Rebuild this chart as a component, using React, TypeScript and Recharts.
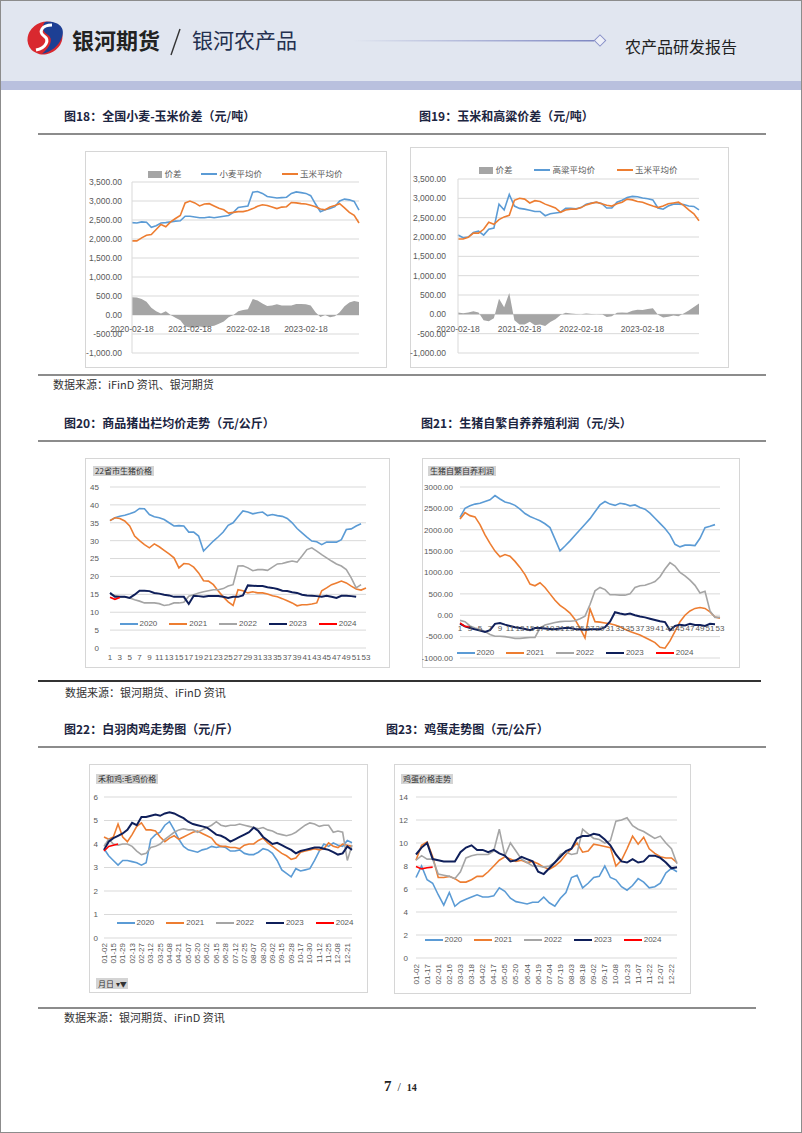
import React from 'react'
import { ComposedChart, LineChart, Line, Area, XAxis, YAxis, CartesianGrid, Legend } from 'recharts'

const FONT = "'Liberation Sans', 'Noto Sans CJK SC', sans-serif"
const CJK = "'Noto Sans CJK SC', 'Noto Sans', sans-serif"

const BLUE = '#5b9bd5'
const ORANGE = '#ed7d31'
const GRAY = '#a5a5a5'
const NAVY = '#0f1f5a'
const RED = '#ff0000'
const GRID = '#d9d9d9'
const TEXT = '#595959'

// ---- 图18 / 图19 monthly samples, 2020-02-18 .. 2024-01-18
const monthDates: string[] = []
for (let i = 0; i < 48; i++) {
  const m = 1 + i
  monthDates.push(`${2020 + Math.floor(m / 12)}-${String((m % 12) + 1).padStart(2, '0')}-18`)
}
const spreadTicks = [-1000, -500, 0, 500, 1000, 1500, 2000, 2500, 3000, 3500]

const wheatCornSpread = [470, 460, 420, 350, 190, 100, 40, 100, 0, -70, -140, -300, -330, -330, -300, -320, -300, -280, -230, -170, -60, 0, 100, 130, 150, 420, 380, 300, 240, 250, 280, 250, 250, 250, 290, 290, 280, 250, 70, -50, 0, -60, -30, 70, 230, 330, 370, 340]
const wheatAvg = [2430, 2420, 2450, 2440, 2310, 2350, 2420, 2430, 2450, 2470, 2480, 2600, 2600, 2580, 2560, 2560, 2580, 2560, 2580, 2600, 2620, 2700, 2830, 2850, 2870, 3230, 3250, 3200, 3120, 3100, 3080, 3090, 3100, 3200, 3240, 3220, 3200, 3140, 2920, 2720, 2770, 2800, 2850, 3000, 3050, 3030, 2990, 2760]
const cornAvg18 = [1950, 1950, 2030, 2100, 2120, 2250, 2380, 2320, 2450, 2540, 2620, 2950, 3000, 2950, 2870, 2920, 2930, 2870, 2810, 2770, 2680, 2700, 2720, 2720, 2750, 2800, 2860, 2900, 2880, 2840, 2800, 2840, 2850, 2960, 2950, 2930, 2920, 2890, 2850, 2790, 2770, 2840, 2880, 2930, 2820, 2700, 2620, 2420]

const cornSorghumSpread = [50, 30, 50, 80, 50, -150, -180, -100, 400, 180, 550, -150, -260, -260, -190, -280, -260, -300, -200, -130, -20, 40, 20, 10, 0, 20, 10, 0, 10, -70, -50, 40, 50, 40, 90, 120, 110, 140, 160, -10, -80, -60, -30, -50, 20, 100, 190, 280]
const sorghumAvg = [2050, 1980, 2000, 2120, 2150, 2050, 2200, 2230, 2850, 2700, 3100, 2800, 2740, 2720, 2690, 2660, 2660, 2550, 2600, 2620, 2640, 2740, 2740, 2730, 2760, 2850, 2880, 2900, 2870, 2750, 2750, 2900, 2950, 3020, 3050, 3040, 3010, 2990, 2960, 2750, 2720, 2800, 2850, 2850, 2840, 2800, 2790, 2700]
const cornAvg19 = [1950, 1950, 1990, 2100, 2100, 2200, 2380, 2330, 2450, 2520, 2560, 2950, 3000, 2980, 2880, 2940, 2920, 2850, 2800, 2750, 2640, 2700, 2720, 2720, 2760, 2830, 2870, 2900, 2860, 2820, 2800, 2860, 2900, 2980, 2960, 2920, 2900, 2850, 2800, 2760, 2800, 2860, 2880, 2900, 2820, 2700, 2600, 2420]

// ---- 图20 / 图21 weekly
const weeks = Array.from({ length: 53 }, (_, i) => String(i + 1))
const hogTicks = [0, 5, 10, 15, 20, 25, 30, 35, 40, 45]
const hog2020 = [35.6, 36.4, 36.8, 37.1, 37.5, 38, 39, 38.9, 37.3, 36.7, 36.4, 35.9, 35, 34.1, 34.2, 34.1, 32.4, 32.4, 31.3, 27.1, 28.5, 29.9, 31.1, 32.4, 34.3, 35, 36.7, 38.3, 38, 37.5, 37.8, 38, 37, 37.3, 37, 36.8, 36.2, 35, 33.4, 32.2, 31, 29.9, 29.7, 28.9, 29.6, 29.6, 29.6, 30.3, 33.1, 33.3, 34.1, 34.7, null]
const hog2021 = [35.6, 36.4, 36.2, 35.5, 34.1, 31.3, 30, 28.9, 28, 29.1, 28.3, 27.3, 26.3, 25.2, 22.4, 23.6, 23.5, 22.6, 21, 18.8, 18.7, 17.7, 15.9, 14.3, 12.9, 11.9, 16.3, 16, 15.4, 15.7, 15.4, 15.4, 15.1, 14.6, 14.3, 13.8, 13.2, 12.6, 11.8, 12.1, 12.1, 12.3, 12.6, 16, 16.8, 17.7, 18.2, 18.7, 18.2, 17.3, 16.5, 16.2, 16.8]
const hog2022 = [15, 14.7, 14.3, 14.3, 14, 13.5, 13.1, 12.6, 12.6, 12.6, 12.4, 11.9, 12.1, 12.6, 12.6, 12.8, 14.5, 14.9, 15.4, 15.7, 16, 16.3, 16.3, 16.6, 17.3, 17.7, 22.9, 23, 22.4, 21.6, 21.9, 21.9, 21.7, 22.6, 23.5, 23.6, 24, 24.3, 24, 25.7, 27.5, 28, 27.1, 26.1, 25.2, 24.3, 23.5, 22.9, 21.9, 19.6, 16.8, 17.7, null]
const hog2023 = [15.4, 14.3, 14.3, 14.3, 14, 14.9, 16, 16, 15.9, 15.4, 15.2, 14.9, 14.7, 14.3, 14.3, 14.3, 12.3, 14.6, 14.5, 14.3, 14.5, 14.5, 14.5, 14.3, 14, 14.3, 14.3, 14.7, 17.5, 17.4, 17.3, 17.3, 17, 16.8, 16.5, 16, 15.9, 15.6, 15.4, 14.9, 14.7, 14.6, 14.5, 14.3, 14.6, 14.3, 14, 14.6, 14.6, 14.5, 14.3, null, null]
const hog2024 = [14.2, 13.6, 14.1]

const profitTicks = [-1000, -500, 0, 500, 1000, 1500, 2000, 2500, 3000]
const profit2020 = [2290, 2500, 2560, 2600, 2620, 2660, 2700, 2800, 2720, 2650, 2620, 2570, 2480, 2380, 2310, 2260, 2210, 2140, 2050, 1780, 1506, 1620, 1740, 1870, 2000, 2130, 2260, 2420, 2580, 2660, 2600, 2570, 2620, 2600, 2560, 2580, 2520, 2480, 2390, 2270, 2150, 2030, 1880, 1660, 1600, 1640, 1640, 1630, 1800, 2050, 2080, 2120, null]
const profit2021 = [2250, 2400, 2330, 2300, 2120, 1880, 1680, 1500, 1370, 1420, 1380, 1260, 1120, 950, 730, 690, 760, 650, 500, 350, 230, 150, 50, -100, -300, -530, 150, -150, -160, -180, -200, -230, -270, -330, -380, -420, -460, -520, -580, -640, -750, -770, -600, -380, -150, 0, 100, 160, 180, 160, 80, -40, -70]
const profit2022 = [-120, -150, -250, -300, -330, -380, -450, -490, -490, -500, -520, -540, -540, -530, -520, -520, -300, -230, -200, -170, -150, -140, -140, -130, -80, -20, 250, 570, 650, 600, 480, 480, 470, 470, 500, 650, 690, 700, 740, 790, 900, 1080, 1230, 1150, 1000, 920, 820, 700, 520, 560, 100, -50, -50]
const profit2023 = [-200, -260, -300, -330, -360, -390, -350, -200, -180, -220, -250, -280, -300, -320, -350, -300, -300, -310, -320, -330, -310, -300, -300, -320, -330, -340, -330, -330, -330, -280, -150, 70, 40, 20, 40, 0, -30, -50, -80, -110, -140, -160, -350, -250, -220, -240, -200, -230, -230, -250, -200, -210, null]
const profit2024 = [-180, -260, -270]

// ---- 图22 broiler, ticks at even rows
const broilerTickDates = ['01-02', '01-15', '01-29', '02-13', '02-27', '03-12', '03-25', '04-08', '04-21', '05-07', '05-20', '06-02', '06-15', '06-28', '07-12', '07-25', '08-07', '08-20', '09-02', '09-15', '09-28', '10-17', '10-30', '11-12', '11-25', '12-08', '12-21']
const broilerMidDates = ['01-08', '01-22', '02-06', '02-20', '03-05', '03-18', '04-01', '04-14', '04-28', '05-13', '05-26', '06-08', '06-21', '07-05', '07-18', '07-31', '08-13', '08-26', '09-08', '09-21', '10-10', '10-23', '11-05', '11-18', '12-01', '12-14', '12-27']
const broilerTicks = [0, 1, 2, 3, 4, 5, 6]
const broiler2020 = [3.8, 3.5, 3.3, 3.1, 3.3, 3.3, 3.25, 3.2, 3.1, 3.2, 4.2, 4.4, 4.5, 4.8, 4.95, 4.6, 4.2, 3.9, 3.75, 3.7, 3.65, 3.75, 3.8, 3.9, 3.85, 3.9, 3.85, 3.7, 3.7, 3.75, 3.6, 3.55, 3.55, 3.65, 3.8, 3.75, 3.6, 3.3, 2.9, 2.75, 2.6, 2.95, 2.85, 2.9, 2.95, 3.3, 3.7, 4.0, 3.9, 4.05, 3.95, 3.9, 4.15, 4.05]
const broiler2021 = [4.3, 4.2, 4.3, 4.85, 4.3, 4.1, 4.4, 4.75, 4.9, 4.6, 4.6, 4.55, 4.3, 4.1, 4.25, 4.35, 4.2, 4.3, 4.4, 4.5, 4.55, 4.45, 4.35, 4.25, 4.0, 3.9, 3.9, 3.85, 3.85, 3.8, 3.95, 4.0, 4.0, 4.15, 4.25, 4.05, 3.9, 3.75, 3.6, 3.5, 3.35, 3.4, 3.65, 3.7, 3.75, 3.8, 3.75, 3.8, 4.05, 3.9, 3.85, 4.0, 3.95, 3.9]
const broiler2022 = [3.9, 4.2, 4.0, 3.95, 4.0, 4.0, 3.9, 3.7, 3.55, 3.6, 3.85, 3.9, 4.0, 4.2, 4.35, 4.5, 4.6, 4.65, 4.6, 4.6, 4.5, 4.6, 4.7, 4.8, 4.95, 4.8, 4.75, 4.8, 4.8, 4.85, 4.8, 4.75, 4.7, 4.65, 4.7, 4.6, 4.55, 4.45, 4.4, 4.35, 4.4, 4.5, 4.65, 4.8, 4.9, 4.85, 4.75, 4.8, 4.8, 4.5, 4.55, 4.5, 3.3, 3.95]
const broiler2023 = [3.75, 4.1, 4.25, 4.35, 4.45, 4.6, 4.9, 4.8, 5.15, 5.15, 5.2, 5.25, 5.2, 5.3, 5.35, 5.3, 5.2, 5.1, 4.95, 4.85, 4.8, 4.75, 4.7, 4.55, 4.4, 4.35, 4.25, 4.1, 4.2, 4.3, 4.4, 4.5, 4.7, 4.55, 4.3, 4.15, 4.0, 4.05, 3.95, 3.85, 3.75, 3.6, 3.7, 3.75, 3.8, 3.85, 3.85, 3.8, 3.75, 3.65, 3.55, 3.6, 3.9, 3.75]
const broiler2024 = [3.7, 3.9, 3.95, 4.0]

// ---- 图23 egg, ticks at even rows
const eggTickDates = ['01-02', '01-17', '02-01', '02-16', '03-03', '03-18', '04-02', '04-17', '05-05', '05-20', '06-04', '06-19', '07-04', '07-19', '08-03', '08-18', '09-02', '09-17', '10-08', '10-23', '11-07', '11-22', '12-07', '12-22']
const eggMidDates = ['01-09', '01-24', '02-08', '02-23', '03-10', '03-25', '04-09', '04-26', '05-12', '05-27', '06-11', '06-26', '07-11', '07-26', '08-10', '08-25', '09-09', '09-27', '10-15', '10-30', '11-14', '11-29', '12-14', '12-28']
const eggTicks = [0, 2, 4, 6, 8, 10, 12, 14]
const egg2020 = [7.0, 8.0, 6.8, 6.5, 5.5, 4.6, 5.7, 4.5, 4.9, 5.1, 5.3, 5.5, 5.3, 5.3, 5.4, 6.1, 5.8, 5.2, 4.9, 4.8, 4.7, 4.85, 4.85, 5.3, 4.8, 4.5, 5.2, 5.7, 7.0, 7.2, 6.1, 6.5, 7.0, 7.1, 8.0, 7.0, 6.8, 6.2, 5.9, 6.3, 6.9, 6.6, 6.1, 6.2, 6.5, 7.4, 7.8, 7.5]
const egg2021 = [8.5, 9.8, 10.1, 8.8, 7.0, 7.0, 7.1, 6.9, 6.6, 6.6, 6.8, 7.1, 7.1, 7.5, 8.0, 8.5, 8.8, 8.6, 8.4, 8.5, 8.3, 8.4, 8.2, 7.9, 7.7, 8.0, 8.4, 9.0, 9.5, 10.0, 9.2, 9.3, 9.9, 9.8, 9.7, 9.6, 8.0, 8.5, 9.5, 10.6, 9.9, 10.5, 9.5, 9.1, 8.8, 8.7, 8.7, 8.3]
const egg2022 = [8.5, 8.9, 8.6, 8.6, 7.3, 7.2, 7.1, 6.9, 7.5, 8.7, 8.9, 9.0, 9.0, 9.0, 9.3, 11.2, 8.9, 10.0, 9.3, 8.6, 8.3, 8.0, 8.0, 7.9, 8.0, 8.3, 9.0, 9.2, 9.0, 9.1, 11.2, 10.8, 10.4, 10.3, 10.0, 10.2, 11.9, 12.0, 12.2, 11.5, 11.2, 11.0, 10.7, 10.4, 10.6, 10.0, 9.5, 8.2]
const egg2023 = [9.0, 9.6, 10.0, 8.6, 8.5, 8.4, 8.4, 8.4, 9.2, 9.6, 9.8, 9.4, 9.4, 9.2, 9.4, 9.1, 8.9, 8.4, 8.5, 8.8, 8.6, 8.4, 7.5, 7.3, 7.8, 8.3, 8.8, 9.3, 9.5, 10.4, 10.6, 10.6, 10.8, 10.7, 10.3, 9.8, 9.0, 8.4, 8.3, 8.6, 8.3, 8.4, 8.9, 8.9, 8.7, 8.3, 7.8, 7.9]
const egg2024 = [7.95, 7.75, 7.85, 7.9]

const years = ['2020', '2021', '2022', '2023', '2024']
const yearColors = [BLUE, ORANGE, GRAY, NAVY, RED]

const interleave = (a: string[], b: string[]) => a.flatMap((v, i) => (b[i] ? [v, b[i]] : [v]))
const broilerDates = interleave(broilerTickDates, broilerMidDates)
const eggDates = interleave(eggTickDates, eggMidDates)

const byYear = (cats: string[], series: (number | null)[][]) =>
  cats.map((c, i) => {
    const row: any = { cat: c }
    series.forEach((s, k) => (row[years[k]] = s[i] ?? null))
    return row
  })

const data18 = monthDates.map((d, i) => ({ date: d, spread: wheatCornSpread[i], wheat: wheatAvg[i], corn: cornAvg18[i] }))
const data19 = monthDates.map((d, i) => ({ date: d, spread: cornSorghumSpread[i], sorghum: sorghumAvg[i], corn: cornAvg19[i] }))
const hogData = byYear(weeks, [hog2020, hog2021, hog2022, hog2023, hog2024])
const profitData = byYear(weeks, [profit2020, profit2021, profit2022, profit2023, profit2024])
const broilerData = byYear(broilerDates, [broiler2020, broiler2021, broiler2022, broiler2023, broiler2024])
const eggData = byYear(eggDates, [egg2020, egg2021, egg2022, egg2023, egg2024])

const fmtComma = (v: number) => v.toLocaleString('en-US', { minimumFractionDigits: 2, maximumFractionDigits: 2 })
const fmtFixed = (v: number) => v.toFixed(2)

type LegendItem = { name: string; color: string; rect?: boolean }
function LegendRow({ items, fontSize = 8, gap = 12, lineLen = 18 }: { items: LegendItem[]; fontSize?: number; gap?: number; lineLen?: number }) {
  return (
    <div style={{ display: 'flex', justifyContent: 'center', alignItems: 'center', gap, fontSize, color: TEXT, fontFamily: FONT, lineHeight: '10px', whiteSpace: 'nowrap' }}>
      {items.map((it) => (
        <span key={it.name} style={{ display: 'flex', alignItems: 'center', gap: 2 }}>
          <span style={{ display: 'inline-block', width: it.rect ? 14 : lineLen, height: it.rect ? 7 : 2, background: it.color }} />
          <span>{it.name}</span>
        </span>
      ))}
    </div>
  )
}

const yearItems: LegendItem[] = years.map((y, i) => ({ name: y, color: yearColors[i] }))

const flatTick = (dy: number, size = 8) => (props: any) => {
  const { x, y, payload } = props
  return (
    <text x={x} y={y + dy} textAnchor="middle" fontSize={size} fill={TEXT} fontFamily={FONT}>
      {payload.value}
    </text>
  )
}
const upTick = (dy: number, size = 8) => (props: any) => {
  const { x, y, payload } = props
  return (
    <text transform={`translate(${x},${y + dy}) rotate(-90)`} textAnchor="end" dominantBaseline="central" fontSize={size} fill={TEXT} fontFamily={FONT}>
      {payload.value}
    </text>
  )
}

const yTick = (size: number) => ({ fontSize: size, fill: TEXT, fontFamily: FONT })

function Box({ left, top, width, height, children }: any) {
  return (
    <div style={{ position: 'absolute', left, top, width, height, outline: '1px solid #d6d6d6', outlineOffset: -1, background: '#fff' }}>
      {children}
    </div>
  )
}

function Tag({ left, top, text }: { left: number; top: number; text: string }) {
  return (
    <div style={{ position: 'absolute', left, top, height: 10, padding: '0 2px', background: '#d4d4d4', fontSize: 8, lineHeight: '10px', color: '#333', fontFamily: CJK, whiteSpace: 'nowrap' }}>
      {text}
    </div>
  )
}

function YearLines() {
  return (
    <>
      {years.map((y, i) => (
        <Line key={y} dataKey={y} stroke={yearColors[i]} strokeWidth={i === 3 ? 2 : 1.6} dot={false} isAnimationActive={false} />
      ))}
    </>
  )
}

const pageText: React.CSSProperties = { position: 'absolute', whiteSpace: 'nowrap', lineHeight: 1 }
const titleStyle: React.CSSProperties = { ...pageText, fontSize: 12, fontWeight: 'bold', color: '#1c2541' }
const sourceStyle: React.CSSProperties = { ...pageText, fontSize: 11, color: '#333' }

export default function App() {
  return (
    <div style={{ position: 'absolute', left: 0, top: 0, width: 802, height: 1133, background: '#fff', fontFamily: CJK, boxSizing: 'border-box', border: '1px solid #8c8c8c', overflow: 'hidden' }}>
      {/* header */}
      <div style={{ position: 'absolute', left: 0, top: 0, width: 802, height: 80, background: '#e1e6f0' }} />
      <div style={{ position: 'absolute', left: 0, top: 80, width: 802, height: 9, background: '#b9c0de' }} />
      <svg style={{ position: 'absolute', left: 23, top: 18 }} width={42} height={38} viewBox="0 0 42 38">
        <ellipse cx={21} cy={19} rx={18} ry={16} transform="rotate(-30 21 19)" fill="#d9282f" />
        <path d="M21 3 C33 1 42 8 38 18 C35 27 27 33 18 35 C26 28 30 20 24 16 C19 13 17 8 21 3 Z" fill="#1d3f94" />
        <path d="M28 6 C18 6 14 13 20 17 C26 21 22 29 12 31" stroke="#fff" strokeWidth={3} fill="none" />
      </svg>
      <div style={{ ...pageText, left: 71, top: 27, fontSize: 22, fontWeight: 'bold', color: '#222' }}>银河期货</div>
      <svg style={{ position: 'absolute', left: 166, top: 26 }} width={16} height={30}>
        <line x1={13} y1={2} x2={4} y2={28} stroke="#333" strokeWidth={1.4} />
      </svg>
      <div style={{ ...pageText, left: 191, top: 28, fontSize: 21, color: '#24304f' }}>银河农产品</div>
      <svg style={{ position: 'absolute', left: 350, top: 33 }} width={260} height={14}>
        <defs>
          <linearGradient id="hl" x1="0" x2="1" y1="0" y2="0">
            <stop offset="0" stopColor="#e1e6f0" />
            <stop offset="1" stopColor="#7e87c2" />
          </linearGradient>
        </defs>
        <rect x={2} y={6} width={241} height={1.5} fill="url(#hl)" />
        <rect x={245} y={2.5} width={8} height={8} transform="rotate(45 249 6.5)" fill="#eef0f8" stroke="#8890c8" strokeWidth={1} />
      </svg>
      <div style={{ ...pageText, left: 624, top: 37, fontSize: 16, color: '#222' }}>农产品研发报告</div>

      {/* row 1 */}
      <div style={{ ...titleStyle, left: 63, top: 109 }}>图18：全国小麦-玉米价差（元/吨）</div>
      <div style={{ ...titleStyle, left: 418, top: 109 }}>图19：玉米和高粱价差（元/吨）</div>
      <div style={{ position: 'absolute', left: 37, top: 132, width: 728, height: 2, background: '#8c8c8c' }} />

      <Box left={84} top={150} width={302} height={217}>
        <ComposedChart width={302} height={217} data={data18} margin={{ top: 31, right: 28, bottom: 0, left: 0 }}>
          <CartesianGrid vertical={false} stroke={GRID} />
          <XAxis dataKey="date" interval={11} axisLine={false} tickLine={false} tickSize={0} height={15} tick={flatTick(-23, 8.5)} />
          <YAxis domain={[-1000, 3500]} ticks={spreadTicks} interval={0} width={47} axisLine={{ stroke: GRID }} tickLine={false} tickSize={0} tickMargin={10} tickFormatter={fmtComma} tick={yTick(8.5)} />
          <Legend verticalAlign="middle" align="center" wrapperStyle={{ left: 47, top: 18, width: 227, height: 10 }}
            content={() => <LegendRow fontSize={8.5} gap={20} lineLen={16} items={[{ name: '价差', color: GRAY, rect: true }, { name: '小麦平均价', color: BLUE }, { name: '玉米平均价', color: ORANGE }]} />} />
          <Area dataKey="spread" type="linear" fill={GRAY} fillOpacity={1} stroke="none" isAnimationActive={false} />
          <Line dataKey="wheat" stroke={BLUE} strokeWidth={1.6} dot={false} isAnimationActive={false} />
          <Line dataKey="corn" stroke={ORANGE} strokeWidth={1.6} dot={false} isAnimationActive={false} />
        </ComposedChart>
      </Box>

      <Box left={409} top={146} width={319} height={221}>
        <ComposedChart width={319} height={221} data={data19} margin={{ top: 32, right: 30, bottom: 0, left: 0 }}>
          <CartesianGrid vertical={false} stroke={GRID} />
          <XAxis dataKey="date" interval={11} axisLine={false} tickLine={false} tickSize={0} height={15} tick={flatTick(-23, 8.5)} />
          <YAxis domain={[-1000, 3500]} ticks={spreadTicks} interval={0} width={48} axisLine={{ stroke: GRID }} tickLine={false} tickSize={0} tickMargin={12} tickFormatter={fmtComma} tick={yTick(8.5)} />
          <Legend verticalAlign="middle" align="center" wrapperStyle={{ left: 48, top: 18, width: 241, height: 10 }}
            content={() => <LegendRow fontSize={8.5} gap={22} lineLen={16} items={[{ name: '价差', color: GRAY, rect: true }, { name: '高粱平均价', color: BLUE }, { name: '玉米平均价', color: ORANGE }]} />} />
          <Area dataKey="spread" type="linear" fill={GRAY} fillOpacity={1} stroke="none" isAnimationActive={false} />
          <Line dataKey="sorghum" stroke={BLUE} strokeWidth={1.6} dot={false} isAnimationActive={false} />
          <Line dataKey="corn" stroke={ORANGE} strokeWidth={1.6} dot={false} isAnimationActive={false} />
        </ComposedChart>
      </Box>

      <div style={{ position: 'absolute', left: 37, top: 373, width: 728, height: 2, background: '#8c8c8c' }} />
      <div style={{ ...sourceStyle, left: 52, top: 378 }}>数据来源：iFinD 资讯、银河期货</div>

      {/* row 2 */}
      <div style={{ ...titleStyle, left: 63, top: 416 }}>图20：商品猪出栏均价走势（元/公斤）</div>
      <div style={{ ...titleStyle, left: 420, top: 416 }}>图21：生猪自繁自养养殖利润（元/头）</div>
      <div style={{ position: 'absolute', left: 37, top: 439, width: 728, height: 2, background: '#8c8c8c' }} />

      <Box left={84} top={457} width={305} height={210}>
        <LineChart width={305} height={210} data={hogData} margin={{ top: 29, right: 24, bottom: 0, left: 0 }}>
          <CartesianGrid vertical={false} stroke={GRID} />
          <XAxis dataKey="cat" interval={1} axisLine={false} tickLine={false} tickSize={0} height={20} tick={flatTick(10, 8)} />
          <YAxis domain={[0, 45]} ticks={hogTicks} interval={0} width={25} axisLine={false} tickLine={false} tickSize={0} tickMargin={11} tick={yTick(8)} />
          <Legend verticalAlign="middle" align="center" wrapperStyle={{ left: 25, top: 161, width: 256, height: 10 }} content={() => <LegendRow items={yearItems} />} />
          {YearLines()}
        </LineChart>
      </Box>
      <Tag left={92} top={465} text="22省市生猪价格" />

      <Box left={421} top={457} width={318} height={210}>
        <LineChart width={318} height={210} data={profitData} margin={{ top: 29, right: 20, bottom: 0, left: 0 }}>
          <CartesianGrid vertical={false} stroke={GRID} />
          <XAxis dataKey="cat" interval={1} axisLine={false} tickLine={false} tickSize={0} height={10} tick={flatTick(-29, 8)} />
          <YAxis domain={[-1000, 3000]} ticks={profitTicks} interval={0} width={38} axisLine={false} tickLine={false} tickSize={0} tickMargin={7} tickFormatter={fmtFixed} tick={yTick(8)} />
          <Legend verticalAlign="middle" align="center" wrapperStyle={{ left: 38, top: 190, width: 230, height: 10 }} content={() => <LegendRow items={yearItems} />} />
          {YearLines()}
        </LineChart>
      </Box>
      <Tag left={427} top={465} text="生猪自繁自养利润" />

      <div style={{ position: 'absolute', left: 37, top: 679, width: 723, height: 2, background: '#333' }} />
      <div style={{ ...sourceStyle, left: 64, top: 686 }}>数据来源：银河期货、iFinD 资讯</div>

      {/* row 3 */}
      <div style={{ ...titleStyle, left: 63, top: 722 }}>图22：白羽肉鸡走势图（元/斤）</div>
      <div style={{ ...titleStyle, left: 385, top: 722 }}>图23：鸡蛋走势图（元/公斤）</div>
      <div style={{ position: 'absolute', left: 37, top: 745, width: 728, height: 2, background: '#8c8c8c' }} />

      <Box left={88} top={763} width={279} height={229}>
        <LineChart width={279} height={229} data={broilerData} margin={{ top: 33, right: 16, bottom: 0, left: 0 }}>
          <CartesianGrid vertical={false} stroke={GRID} />
          <XAxis dataKey="cat" interval={1} axisLine={false} tickLine={false} tickSize={0} height={55} tick={upTick(3, 8)} />
          <YAxis domain={[0, 6]} ticks={broilerTicks} interval={0} width={15} axisLine={false} tickLine={false} tickSize={0} tickMargin={6} tick={yTick(8)} />
          <Legend verticalAlign="middle" align="center" wrapperStyle={{ left: 15, top: 154, width: 262, height: 10 }} content={() => <LegendRow items={yearItems} />} />
          {YearLines()}
        </LineChart>
      </Box>
      <Tag left={95} top={773} text="禾和鸡:毛鸡价格" />
      <div style={{ position: 'absolute', left: 95, top: 977, width: 32, height: 11, background: '#d4d4d4', fontSize: 8, lineHeight: '11px', color: '#333', paddingLeft: 2, boxSizing: 'border-box', whiteSpace: 'nowrap' }}>
        月日 ▾<span style={{ fontSize: 7 }}>▼</span>
      </div>

      <Box left={393} top={763} width={297} height={230}>
        <LineChart width={297} height={230} data={eggData} margin={{ top: 33, right: 14, bottom: 0, left: 0 }}>
          <CartesianGrid vertical={false} stroke={GRID} />
          <XAxis dataKey="cat" interval={1} axisLine={false} tickLine={false} tickSize={0} height={36} tick={upTick(4, 8)} />
          <YAxis domain={[0, 14]} ticks={eggTicks} interval={0} width={22} axisLine={false} tickLine={false} tickSize={0} tickMargin={8} tick={yTick(8)} />
          <Legend verticalAlign="middle" align="center" wrapperStyle={{ left: 22, top: 171, width: 254, height: 10 }} content={() => <LegendRow items={yearItems} />} />
          {YearLines()}
        </LineChart>
      </Box>
      <Tag left={400} top={773} text="鸡蛋价格走势" />

      <div style={{ position: 'absolute', left: 37, top: 1006, width: 718, height: 2, background: '#8c8c8c' }} />
      <div style={{ ...sourceStyle, left: 63, top: 1011 }}>数据来源：银河期货、iFinD 资讯</div>

      <div style={{ ...pageText, left: 383, top: 1077, fontFamily: "'Liberation Serif', 'DejaVu Serif', serif", fontWeight: 'bold', color: '#222' }}>
        <span style={{ fontSize: 15 }}>7</span>
        <span style={{ fontSize: 12, fontWeight: 'normal', margin: '0 6px' }}>/</span>
        <span style={{ fontSize: 10 }}>14</span>
      </div>
    </div>
  )
}
